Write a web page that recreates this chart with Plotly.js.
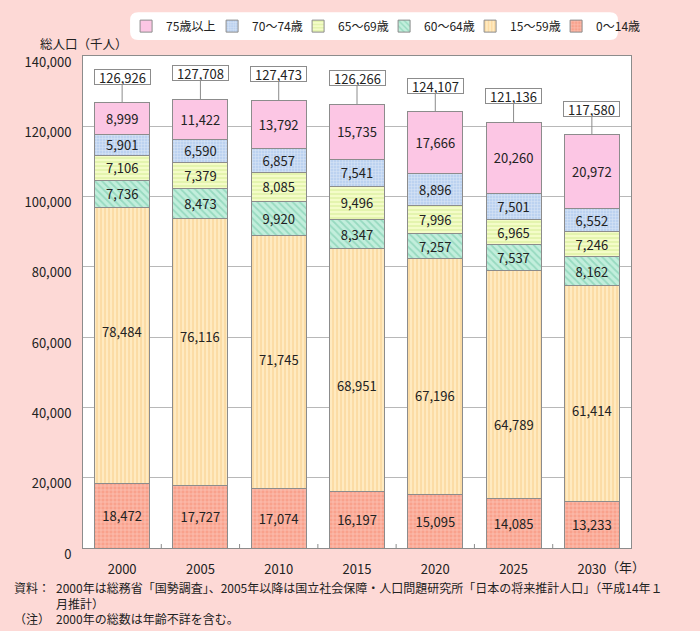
<!DOCTYPE html>
<html><head><meta charset="utf-8">
<script src="https://cdn.plot.ly/plotly-3.0.1.min.js"></script>
<style>html,body{margin:0;padding:0;background:#FDD9D6;}#chart{width:700px;height:631px;}</style>
</head><body><div id="chart"></div>
<script>
const years = ['2000','2005','2010','2015','2020','2025','2030'];
const age0_14   = [18472,17727,17074,16197,15095,14085,13233];
const age15_59  = [78484,76116,71745,68951,67196,64789,61414];
const age60_64  = [7736,8473,9920,8347,7257,7537,8162];
const age65_69  = [7106,7379,8085,9496,7996,6965,7246];
const age70_74  = [5901,6590,6857,7541,8896,7501,6552];
const age75plus = [8999,11422,13792,15735,17666,20260,20972];
const totals    = [126926,127708,127473,126266,124107,121136,117580];
const seriesNames = ['0～14歳','15～59歳','60～64歳','65～69歳','70～74歳','75歳以上'];

const fmt = v => v.toLocaleString('en-US');
const FONT = '"Noto Sans CJK JP", "Noto Sans", sans-serif';
const TXT = '#222222';

const styles = [
  {bg:'#F9A18C', fg:'#FFE6DF', shape:'+', size:4, solidity:0.35},
  {bg:'#FFEAC0', fg:'#F6C87E', shape:'|', size:4, solidity:0.4},
  {bg:'#C2EEDC', fg:'#6CC6A4', shape:'\\', size:5, solidity:0.35},
  {bg:'#F4FCC8', fg:'#C6E47C', shape:'-', size:4, solidity:0.35},
  {bg:'#BCD2F0', fg:'#F2F6FC', shape:'+', size:3, solidity:0.35},
  {bg:'#FCC6E4', fg:'#FCC6E4', shape:'', size:4, solidity:0.3}
];
const seriesVals = [age0_14, age15_59, age60_64, age65_69, age70_74, age75plus];

const traces = seriesVals.map((vals, k) => {
  const s = styles[k];
  const tr = {
    type:'bar', name: seriesNames[k], x: years, y: vals,
    text: vals.map(fmt),
    textposition: k === 1 ? 'none' : 'inside',
    insidetextanchor:'middle', textangle:0,
    textfont:{family:FONT, size:13, color:TXT},
    hoverinfo:'skip',
    marker:{color:s.bg, line:{color:'#8C8C8C', width:1}}
  };
  if (s.shape) tr.marker.pattern = {shape:s.shape, bgcolor:s.bg, fgcolor:s.fg, size:s.size, solidity:s.solidity, fillmode:'overlay'};
  return tr;
});

// stacked sums
const stackTop = years.map((_, i) => seriesVals.reduce((a, arr) => a + arr[i], 0));

const annotations = [];
// totals boxes (category index used as x)
years.forEach((yr, i) => {
  annotations.push({
    x: i, y: stackTop[i], xref:'x', yref:'y', text: fmt(totals[i]),
    showarrow:true, arrowhead:0, arrowwidth:1, arrowcolor:'#8C8C8C', ax:0, ay:-26,
    bgcolor:'#FFFFFF', bordercolor:'#8C8C8C', borderwidth:1, borderpad:0,
    width:55, height:14, font:{family:FONT, size:13, color:TXT}
  });
});
// 15-59 labels (placed as in the original, off-centre)
const midShift = [14,15,2,-16,-19,-40,-17];
years.forEach((yr, i) => {
  annotations.push({
    x: i, y: age0_14[i] + age15_59[i] / 2, xref:'x', yref:'y', text: fmt(age15_59[i]),
    showarrow:false, yshift: midShift[i], font:{family:FONT, size:13, color:TXT}
  });
});
// axis titles
annotations.push({xref:'paper', yref:'paper', x:(38-83)/547, y:1, yshift:13, xanchor:'left', yanchor:'middle',
  text:'総人口（千人）', showarrow:false, font:{family:FONT, size:12.5, color:TXT}});
annotations.push({xref:'x', yref:'paper', x:years.length - 1, y:0, xanchor:'left', yanchor:'middle', xshift:12, yshift:-18,
  text:'（年）', showarrow:false, font:{family:FONT, size:13, color:TXT}});
// footnotes
const fx = (12-83)/547, fx2 = (54-83)/547;
annotations.push({xref:'paper', yref:'paper', x:fx, y:0, yshift:-29, xanchor:'left', yanchor:'top', align:'left', showarrow:false,
  text:'資料：<br> <br>（注）', font:{family:FONT, size:12, color:TXT}});
annotations.push({xref:'paper', yref:'paper', x:fx2, y:0, yshift:-29, xanchor:'left', yanchor:'top', align:'left', showarrow:false,
  text:'2000年は総務省「国勢調査」、2005年以降は国立社会保障・人口問題研究所「日本の将来推計人口」（平成14年１<br>月推計）<br>2000年の総数は年齢不詳を含む。',
  font:{family:FONT, size:12, color:TXT}});

// small inside ticks between categories on the bottom axis
const shapes = years.slice(0, -1).map((_, i) => ({
  type:'line', xref:'x', yref:'paper', x0:i + 0.5, x1:i + 0.5, y0:0, y1:4/494,
  line:{color:'#8C8C8C', width:1}
}));

// rounded legend background
const x0=(130-83)/547, x1=(617-83)/547, y0=(548-38)/494, y1=(548-10)/494, rx=8/547, ry=8/494;
const legendPath = `M ${x0+rx},${y0} L ${x1-rx},${y0} Q ${x1},${y0} ${x1},${y0+ry} L ${x1},${y1-ry} Q ${x1},${y1} ${x1-rx},${y1} L ${x0+rx},${y1} Q ${x0},${y1} ${x0},${y1-ry} L ${x0},${y0+ry} Q ${x0},${y0} ${x0+rx},${y0} Z`;
shapes.push({type:'path', xref:'paper', yref:'paper', path:legendPath, fillcolor:'#FFFFFF', line:{width:0}, layer:'below'});

const layout = {
  width:700, height:631,
  margin:{l:83, r:69, t:54, b:83},
  paper_bgcolor:'#FDD9D6', plot_bgcolor:'#FFFFFF',
  barmode:'stack', bargap:0.296,
  font:{family:FONT, size:13, color:TXT},
  uniformtext:{minsize:13, mode:'show'},
  showlegend:true,
  legend:{orientation:'h', traceorder:'reversed', x:(126-83)/547, xanchor:'left', y:(548-24)/494, yanchor:'middle',
    bgcolor:'rgba(0,0,0,0)', font:{family:FONT, size:12, color:TXT}, entrywidth:41, itemwidth:30},
  xaxis:{type:'category', range:[-0.5, 6.5], showline:true, mirror:true, linecolor:'#8C8C8C', linewidth:1,
    ticks:'outside', ticklen:9, tickcolor:'rgba(0,0,0,0)',
    tickfont:{family:FONT, size:13, color:TXT}, showgrid:false},
  yaxis:{range:[0,140000], dtick:20000, tickformat:',d', showline:true, mirror:true, linecolor:'#8C8C8C', linewidth:1,
    gridcolor:'#B8B8B8', gridwidth:1, ticks:'', ticklabelshift:6, ticklabelstandoff:8,
    tickfont:{family:FONT, size:13, color:TXT}, zeroline:false},
  shapes: shapes,
  annotations: annotations
};

Plotly.newPlot('chart', traces, layout, {displayModeBar:false, staticPlot:true});
</script></body></html>
